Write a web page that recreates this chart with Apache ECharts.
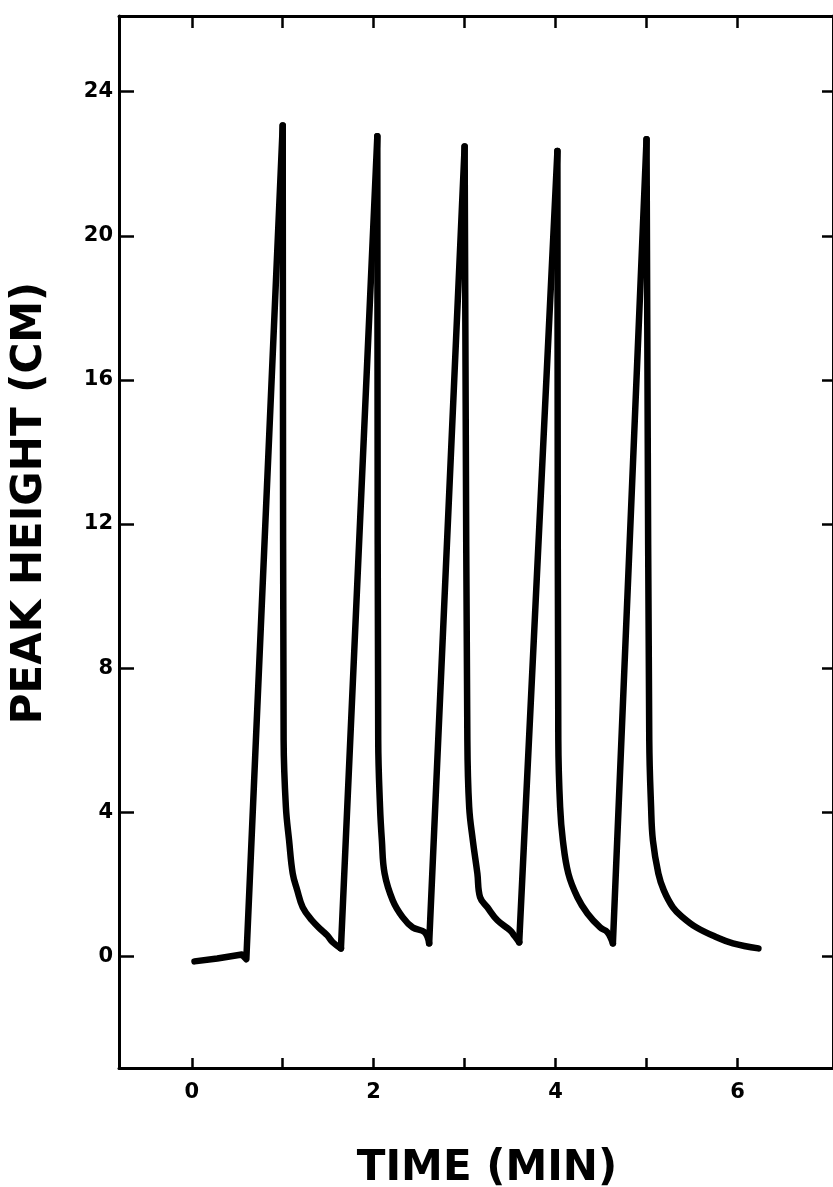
<!DOCTYPE html>
<html>
<head>
<meta charset="utf-8">
<title>Peak height vs time</title>
<script src="https://cdn.jsdelivr.net/npm/echarts@6/dist/echarts.min.js"></script>
<style>
  html, body { margin: 0; padding: 0; background: #fff; }
  #chart { width: 833px; height: 1187px; }
</style>
</head>
<body>
<div id="chart"></div>
<script>
// time (min) and recorder trace height (cm)
var timeMin = [
  0.03, 0.28, 0.50, 0.55, 0.60,
  1.00, 1.01, 1.035, 1.07, 1.11, 1.16, 1.22, 1.32, 1.43, 1.49, 1.55, 1.64,
  2.04, 2.05, 2.07, 2.09, 2.12, 2.21, 2.32, 2.43, 2.56, 2.61,
  3.00, 3.03, 3.05, 3.09, 3.14, 3.17, 3.25, 3.36, 3.50, 3.55, 3.60,
  4.02, 4.03, 4.05, 4.08, 4.14, 4.24, 4.35, 4.49, 4.57, 4.63,
  5.00, 5.03, 5.05, 5.07, 5.13, 5.19, 5.29, 5.40, 5.55, 5.77, 5.95, 6.23
];
var peakCm = [
  -0.14, -0.06, 0.03, 0.05, -0.08,
  23.06, 6.0, 4.14, 3.22, 2.30, 1.83, 1.36, 1.00, 0.72, 0.58, 0.39, 0.22,
  22.76, 6.0, 4.14, 3.22, 2.30, 1.55, 1.08, 0.80, 0.67, 0.36,
  22.48, 6.0, 4.14, 3.22, 2.30, 1.64, 1.36, 1.00, 0.72, 0.56, 0.39,
  22.35, 6.0, 4.14, 3.22, 2.30, 1.64, 1.19, 0.80, 0.67, 0.36,
  22.68, 6.0, 4.14, 3.22, 2.30, 1.83, 1.36, 1.08, 0.80, 0.53, 0.36, 0.22
];
var xTicks = [0, 1, 2, 3, 4, 5, 6];
var xLabels = [0, 2, 4, 6];
var yTicks = [0, 4, 8, 12, 16, 20, 24];

// split the trace: straight pen strokes up to each peak, curved decay after it
var riseData = [];
var decayData = [];
var inDecay = false;
for (var i = 0; i < timeMin.length; i++) {
  var pt = [timeMin[i], peakCm[i]];
  var isPeak = peakCm[i] > 10;
  var nextIsPeak = i + 1 < timeMin.length && peakCm[i + 1] > 10;
  if (isPeak) {
    riseData.push(pt, null);
    if (decayData.length) decayData.push(null);
    decayData.push(pt);
    inDecay = true;
  } else if (inDecay) {
    decayData.push(pt);
    if (nextIsPeak) riseData.push(pt);
  } else {
    riseData.push(pt);
  }
}

var ink = '#000';
var labelFont = { color: ink, fontFamily: 'DejaVu Sans', fontWeight: 'bold', fontSize: 21 };
var titleFont = { color: ink, fontFamily: 'DejaVu Sans', fontWeight: 'bold', fontSize: 42 };
var pen = { color: ink, width: 6.5, cap: 'round', join: 'round' };

function frameAxis(extra) {
  var base = {
    type: 'value',
    axisLine: { show: true, onZero: false, lineStyle: { color: ink, width: 3 } },
    axisTick: { show: true, inside: true, lineStyle: { color: ink, width: 2.5 } },
    axisLabel: { show: false },
    splitLine: { show: false }
  };
  for (var k in extra) {
    if (typeof extra[k] === 'object' && base[k] && !Array.isArray(extra[k])) {
      base[k] = Object.assign({}, base[k], extra[k]);
    } else {
      base[k] = extra[k];
    }
  }
  return base;
}

var chart = echarts.init(document.getElementById('chart'), null, { renderer: 'canvas' });
chart.setOption({
  backgroundColor: '#fff',
  animation: false,
  grid: { left: 119, right: 0, top: 16, bottom: 119, containLabel: false, outerBoundsMode: 'none' },
  xAxis: [
    frameAxis({
      position: 'bottom', min: -0.8, max: 7.05,
      axisTick: { length: 10, customValues: xTicks },
      axisLabel: Object.assign({ show: true, customValues: xLabels, margin: 14 }, labelFont),
      name: 'TIME (MIN)', nameLocation: 'middle', nameGap: 80,
      nameTextStyle: Object.assign({ padding: [0, 0, 0, 22] }, titleFont)
    }),
    frameAxis({
      position: 'top', min: -0.8, max: 7.05,
      axisTick: { length: 12, customValues: xTicks }
    })
  ],
  yAxis: [
    frameAxis({
      position: 'left', min: -3.1, max: 26.1,
      axisTick: { length: 15, customValues: yTicks },
      axisLabel: Object.assign({ show: true, customValues: yTicks, margin: 6 }, labelFont),
      name: 'PEAK HEIGHT (CM)', nameLocation: 'middle', nameGap: 68,
      nameTextStyle: Object.assign({ padding: [0, 0, 0, 78] }, titleFont)
    }),
    frameAxis({
      position: 'right', min: -3.1, max: 26.1,
      axisTick: { length: 11, customValues: yTicks }
    })
  ],
  series: [{
    type: 'line',
    data: riseData,
    showSymbol: false,
    connectNulls: false,
    smooth: false,
    lineStyle: pen
  }, {
    type: 'line',
    data: decayData,
    showSymbol: false,
    connectNulls: false,
    smooth: 0.4,
    lineStyle: pen
  }]
});
</script>
</body>
</html>
